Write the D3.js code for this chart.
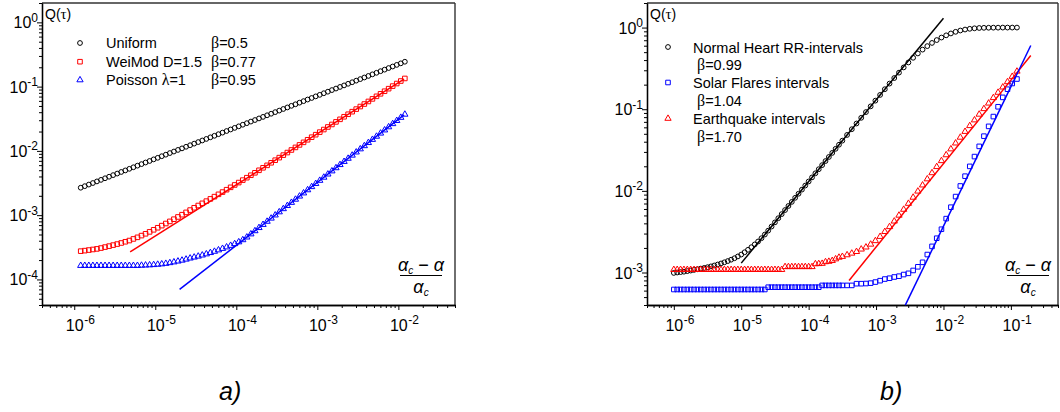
<!DOCTYPE html>
<html><head><meta charset="utf-8">
<script src="https://cdn.jsdelivr.net/npm/d3@7"></script>
<style>
body{margin:0;background:#fff}
svg{display:block}
text{font-family:"Liberation Sans",Arial,sans-serif;fill:#000}
</style>
</head><body>
<svg id="c" width="1060" height="412"></svg>
<script>
// ---------------- DATA (log10 values) ----------------
// Panel a) : x = log10((αc-α)/αc)
const xLogA = [-5.92,-5.87,-5.82,-5.77,-5.72,-5.67,-5.62,-5.57,-5.52,-5.47,-5.42,-5.37,-5.32,-5.27,-5.22,-5.17,-5.12,-5.07,-5.02,-4.97,
-4.92,-4.87,-4.82,-4.77,-4.72,-4.67,-4.62,-4.57,-4.52,-4.47,-4.42,-4.37,-4.32,-4.27,-4.22,-4.17,-4.12,-4.07,-4.02,-3.97,
-3.92,-3.87,-3.82,-3.77,-3.72,-3.67,-3.62,-3.57,-3.52,-3.47,-3.42,-3.37,-3.32,-3.27,-3.22,-3.17,-3.12,-3.07,-3.02,-2.97,
-2.92,-2.87,-2.82,-2.77,-2.72,-2.67,-2.62,-2.57,-2.52,-2.47,-2.42,-2.37,-2.32,-2.27,-2.22,-2.17,-2.12,-2.07,-2.02,-1.97,-1.92];
// log10 Q(τ)
const uniformLogQ = [-2.573,-2.549,-2.524,-2.500,-2.475,-2.451,-2.426,-2.402,-2.377,-2.353,-2.328,-2.304,-2.279,-2.255,-2.230,-2.206,-2.181,-2.157,-2.132,-2.108,
-2.083,-2.059,-2.034,-2.010,-1.985,-1.961,-1.936,-1.912,-1.887,-1.863,-1.838,-1.814,-1.789,-1.765,-1.740,-1.716,-1.691,-1.667,-1.642,-1.618,
-1.593,-1.569,-1.544,-1.520,-1.495,-1.471,-1.446,-1.422,-1.397,-1.373,-1.348,-1.324,-1.299,-1.275,-1.250,-1.226,-1.201,-1.177,-1.152,-1.128,
-1.103,-1.079,-1.054,-1.030,-1.005,-0.981,-0.956,-0.932,-0.907,-0.883,-0.858,-0.834,-0.809,-0.785,-0.760,-0.736,-0.711,-0.687,-0.662,-0.638,-0.613];
const weimodLogQ = [-3.560,-3.552,-3.543,-3.534,-3.525,-3.512,-3.497,-3.482,-3.466,-3.450,-3.433,-3.414,-3.395,-3.370,-3.345,-3.318,-3.290,-3.260,-3.228,-3.196,
-3.163,-3.130,-3.097,-3.063,-3.028,-2.993,-2.957,-2.921,-2.885,-2.850,-2.816,-2.782,-2.747,-2.712,-2.676,-2.641,-2.604,-2.567,-2.530,-2.493,
-2.455,-2.417,-2.379,-2.341,-2.302,-2.263,-2.225,-2.185,-2.145,-2.105,-2.066,-2.026,-1.986,-1.946,-1.907,-1.867,-1.827,-1.787,-1.748,-1.708,
-1.668,-1.628,-1.589,-1.549,-1.509,-1.469,-1.430,-1.390,-1.350,-1.310,-1.271,-1.231,-1.191,-1.151,-1.112,-1.072,-1.032,-0.992,-0.952,-0.913,-0.873];
const poissonLogQ = [-3.785,-3.785,-3.785,-3.785,-3.785,-3.785,-3.785,-3.785,-3.785,-3.785,-3.785,-3.785,-3.785,-3.785,-3.785,-3.782,-3.779,-3.776,-3.772,-3.767,
-3.761,-3.753,-3.742,-3.730,-3.717,-3.703,-3.687,-3.670,-3.655,-3.640,-3.623,-3.605,-3.585,-3.565,-3.543,-3.520,-3.497,-3.473,-3.446,-3.418,
-3.385,-3.343,-3.294,-3.245,-3.196,-3.147,-3.098,-3.049,-3.000,-2.951,-2.902,-2.853,-2.804,-2.755,-2.706,-2.657,-2.608,-2.559,-2.510,-2.461,
-2.412,-2.363,-2.314,-2.265,-2.216,-2.167,-2.118,-2.069,-2.020,-1.971,-1.922,-1.873,-1.824,-1.775,-1.726,-1.677,-1.628,-1.579,-1.530,-1.481,-1.432];
// fitted power laws (log10 x, log10 Q) end points
const weimodFitA = [[-5.31,-3.570],[-1.93,-0.883]];
const poissonFitA = [[-4.70,-4.156],[-1.93,-1.441]];

// Panel b)
const xLogB = [-6.00,-5.95,-5.90,-5.85,-5.80,-5.75,-5.70,-5.65,-5.60,-5.55,-5.50,-5.45,-5.40,-5.35,-5.30,-5.25,-5.20,-5.15,-5.10,-5.05,
-5.00,-4.95,-4.90,-4.85,-4.80,-4.75,-4.70,-4.65,-4.60,-4.55,-4.50,-4.45,-4.40,-4.35,-4.30,-4.25,-4.20,-4.15,-4.10,-4.05,
-4.00,-3.95,-3.90,-3.85,-3.80,-3.75,-3.70,-3.65,-3.60,-3.55,-3.50,
-3.43,-3.36,-3.29,-3.22,-3.15,-3.08,-3.01,-2.94,-2.87,-2.80,-2.73,-2.66,-2.59,-2.52,-2.45,-2.38,-2.31,-2.24,-2.17,-2.10,
-2.03,-1.96,-1.89,-1.82,-1.75,-1.68,-1.61,-1.54,-1.47,-1.40,-1.33,-1.26,-1.19,-1.12,-1.05,-0.98,-0.91];
const heartLogQ = [-3.005,-3.000,-2.995,-2.990,-2.983,-2.976,-2.968,-2.960,-2.952,-2.944,-2.935,-2.925,-2.914,-2.902,-2.889,-2.875,-2.860,-2.843,-2.825,-2.803,
-2.780,-2.752,-2.722,-2.690,-2.656,-2.620,-2.580,-2.535,-2.487,-2.437,-2.386,-2.335,-2.285,-2.235,-2.185,-2.135,-2.085,-2.035,-1.985,-1.935,
-1.885,-1.835,-1.785,-1.735,-1.685,-1.635,-1.585,-1.535,-1.485,-1.435,-1.385,
-1.315,-1.245,-1.175,-1.105,-1.035,-0.965,-0.895,-0.825,-0.755,-0.686,-0.618,-0.552,-0.488,-0.427,-0.370,-0.317,-0.270,-0.227,-0.188,-0.153,
-0.122,-0.095,-0.072,-0.052,-0.036,-0.024,-0.015,-0.009,-0.005,-0.003,-0.002,-0.001,-0.001,0,0,0,0];
const solarLogQ = [-3.208,-3.208,-3.208,-3.208,-3.208,-3.208,-3.208,-3.208,-3.208,-3.208,-3.208,-3.208,-3.208,-3.208,-3.208,-3.208,-3.208,-3.208,-3.208,-3.208,
-3.208,-3.208,-3.208,-3.208,-3.208,-3.208,-3.208,-3.208,-3.180,-3.180,-3.180,-3.180,-3.180,-3.180,-3.180,-3.180,-3.180,-3.180,-3.180,-3.180,
-3.180,-3.180,-3.180,-3.180,-3.158,-3.158,-3.158,-3.158,-3.158,-3.158,-3.158,
-3.158,-3.158,-3.137,-3.137,-3.135,-3.130,-3.117,-3.100,-3.080,-3.070,-3.055,-3.045,-3.025,-3.010,-2.975,-2.930,-2.875,-2.780,-2.680,-2.580,
-2.470,-2.340,-2.200,-2.070,-1.940,-1.820,-1.700,-1.580,-1.455,-1.330,-1.210,-1.090,-0.970,-0.855,-0.755,-0.685,-0.630];
const quakeLogQ = [-2.965,-2.965,-2.965,-2.965,-2.965,-2.965,-2.965,-2.965,-2.965,-2.965,-2.965,-2.965,-2.965,-2.965,-2.965,-2.965,-2.965,-2.965,-2.965,-2.965,
-2.965,-2.965,-2.965,-2.965,-2.965,-2.965,-2.965,-2.965,-2.965,-2.965,-2.965,-2.965,-2.965,-2.930,-2.930,-2.930,-2.930,-2.930,-2.930,-2.930,
-2.930,-2.930,-2.895,-2.893,-2.890,-2.870,-2.865,-2.855,-2.835,-2.815,-2.805,
-2.785,-2.765,-2.745,-2.715,-2.690,-2.655,-2.612,-2.560,-2.500,-2.440,-2.372,-2.300,-2.228,-2.155,-2.080,-2.005,-1.930,-1.855,-1.780,-1.705,
-1.632,-1.560,-1.488,-1.416,-1.345,-1.274,-1.203,-1.133,-1.063,-0.995,-0.927,-0.860,-0.795,-0.730,-0.665,-0.600,-0.536];
const heartFitB = [[-5.00,-2.885],[-2.00,0.115]];
const solarFitB = [[-2.566,-3.400],[-0.705,-0.220]];
const quakeFitB = [[-3.40,-3.097],[-0.705,-0.343]];

const legendA = [
  {name:"Uniform", beta:"=0.5"},
  {name:"WeiMod D=1.5", beta:"=0.77"},
  {name:"Poisson ", lambda:true, beta:"=0.95"}
];
const legendB = [
  {name:"Normal Heart RR-intervals", beta:"=0.99"},
  {name:"Solar Flares intervals", beta:"=1.04"},
  {name:"Earthquake intervals", beta:"=1.70"}
];

// ---------------- DRAWING ----------------
const svg = d3.select("#c");
const serif = '"Liberation Serif","Times New Roman",serif';

function allTicks(dom){
  const out=[];
  const e0=Math.floor(Math.log10(dom[0])), e1=Math.ceil(Math.log10(dom[1]));
  for(let e=e0;e<=e1;e++) for(let m=1;m<=9;m++){
    const v=+(m+"e"+e);
    if(v>=dom[0]*0.9999 && v<=dom[1]*1.0001) out.push(v);
  }
  return out;
}
const isPow10 = v => Math.abs(Math.log10(v)-Math.round(Math.log10(v)))<1e-9;

const sym = {
  circle: d3.symbol().type(d3.symbolCircle).size(18),
  square: d3.symbol().type(d3.symbolSquare).size(21),
  triangle: d3.symbol().type(d3.symbolTriangle).size(17)
};

function panel(o){
  const x=d3.scaleLog().domain(o.xDomain).range([o.left,o.right]);
  const y=d3.scaleLog().domain(o.yDomain).range([o.bottom,o.top]);
  const g=svg.append("g");

  // frame top/right
  g.append("line").attr("x1",o.left).attr("x2",o.right).attr("y1",o.top).attr("y2",o.top).attr("stroke","#333").attr("stroke-width",1.4);
  g.append("line").attr("x1",o.right).attr("x2",o.right).attr("y1",o.top).attr("y2",o.bottom).attr("stroke","#333").attr("stroke-width",1.4);

  const xt=allTicks(o.xDomain), yt=allTicks(o.yDomain);
  const styleAxis = s => { s.select(".domain").attr("stroke","#000").attr("stroke-width",1.3); s.selectAll(".tick line").attr("stroke","#000").attr("stroke-width",1); };

  g.append("g").attr("transform",`translate(0,${o.bottom})`)
    .call(d3.axisBottom(x).tickValues(xt.filter(v=>!isPow10(v))).tickSize(3).tickSizeOuter(0).tickFormat(""))
    .call(styleAxis);
  const gx=g.append("g").attr("transform",`translate(0,${o.bottom})`)
    .call(d3.axisBottom(x).tickValues(xt.filter(isPow10)).tickSize(5).tickSizeOuter(0).tickFormat(""))
    .call(styleAxis);
  gx.selectAll(".tick").each(function(d){
    const t=d3.select(this); t.selectAll("text").remove();
    const e=Math.round(Math.log10(d));
    t.append("text").attr("y",25.5).attr("text-anchor","middle").attr("font-size",16).text("10");
    t.append("text").attr("x",9.5).attr("y",19).attr("text-anchor","start").attr("font-size",12).text(String(e));
  });

  g.append("g").attr("transform",`translate(${o.left},0)`)
    .call(d3.axisLeft(y).tickValues(yt.filter(v=>!isPow10(v))).tickSize(3).tickSizeOuter(0).tickFormat(""))
    .call(styleAxis);
  const gy=g.append("g").attr("transform",`translate(${o.left},0)`)
    .call(d3.axisLeft(y).tickValues(yt.filter(isPow10)).tickSize(5).tickSizeOuter(0).tickFormat(""))
    .call(styleAxis);
  gy.selectAll(".tick").each(function(d){
    const t=d3.select(this); t.selectAll("text").remove();
    const e=Math.round(Math.log10(d));
    const tx=t.append("text").attr("x",-4).attr("y",5.5).attr("text-anchor","end").attr("font-size",16);
    tx.append("tspan").text("10");
    tx.append("tspan").attr("dy",-6.5).attr("font-size",12).text(String(e));
  });

  // series
  o.series.forEach(s=>{
    const data=o.xs.map((lx,i)=>({x:Math.pow(10,lx),y:Math.pow(10,s.v[i])}));
    g.append("g").selectAll("path").data(data).join("path")
      .attr("d",sym[s.shape]())
      .attr("transform",d=>`translate(${x(d.x)},${y(d.y)})`)
      .attr("fill","none").attr("stroke",s.color).attr("stroke-width",1);
  });
  const line=d3.line().x(d=>x(Math.pow(10,d[0]))).y(d=>y(Math.pow(10,d[1])));
  o.fits.forEach(f=>{
    g.append("path").attr("d",line(f.pts)).attr("fill","none").attr("stroke",f.color).attr("stroke-width",1.5);
  });

  // Q(τ)
  const q=g.append("text").attr("x",o.left+3).attr("y",18.5).attr("font-size",14);
  q.append("tspan").text("Q(");
  q.append("tspan").attr("font-family",serif).attr("font-size",15).text("τ");
  q.append("tspan").text(")");

  // fraction label
  const fx=o.fracX;
  const num=g.append("text").attr("x",fx).attr("y",271).attr("text-anchor","middle")
    .attr("font-family",serif).attr("font-style","italic").attr("font-size",18);
  num.append("tspan").text("α");
  num.append("tspan").attr("font-size",10).attr("dy",3).text("c");
  num.append("tspan").attr("dy",-3).attr("font-style","normal").text(" − ");
  num.append("tspan").text("α");
  g.append("line").attr("x1",fx-21).attr("x2",fx+21).attr("y1",275.5).attr("y2",275.5).attr("stroke","#000").attr("stroke-width",1);
  const den=g.append("text").attr("x",fx).attr("y",292.5).attr("text-anchor","middle")
    .attr("font-family",serif).attr("font-style","italic").attr("font-size",18);
  den.append("tspan").text("α");
  den.append("tspan").attr("font-size",10).attr("dy",3).text("c");

  // caption
  g.append("text").attr("x",o.capX).attr("y",400).attr("font-size",25).attr("font-style","italic").text(o.caption);
  return {x,y,g};
}

// Panel a
const A=panel({
  left:42,right:455,top:3,bottom:305,
  xDomain:[4e-7,5e-2], yDomain:[4e-5,2],
  xs:xLogA,
  series:[
    {v:uniformLogQ,shape:"circle",color:"#000"},
    {v:weimodLogQ,shape:"square",color:"#f00"},
    {v:poissonLogQ,shape:"triangle",color:"#00f"}
  ],
  fits:[{pts:weimodFitA,color:"#f00"},{pts:poissonFitA,color:"#00f"}],
  fracX:421, capX:219, caption:"a)"
});
// legend a
{
  const shapes=["circle","square","triangle"], cols=["#000","#f00","#00f"];
  const base=[48,66.7,85];
  legendA.forEach((l,i)=>{
    A.g.append("path").attr("d",sym[shapes[i]]()).attr("transform",`translate(80,${base[i]-5})`)
      .attr("fill","none").attr("stroke",cols[i]);
    const t=A.g.append("text").attr("x",106).attr("y",base[i]).attr("font-size",14.5);
    t.append("tspan").text(l.name);
    if(l.lambda){ t.append("tspan").attr("font-family",serif).attr("font-size",16).text("λ"); t.append("tspan").text("=1"); }
    const b=A.g.append("text").attr("x",211).attr("y",base[i]).attr("font-size",14.5);
    b.append("tspan").attr("font-family",serif).attr("font-size",16).text("β");
    b.append("tspan").text(l.beta);
  });
}

// Panel b
const B=panel({
  left:647,right:1058,top:3,bottom:305,
  xDomain:[4e-7,0.5], yDomain:[4e-4,2],
  xs:xLogB,
  series:[
    {v:heartLogQ,shape:"circle",color:"#000"},
    {v:quakeLogQ,shape:"triangle",color:"#f00"},
    {v:solarLogQ,shape:"square",color:"#00f"}
  ],
  fits:[{pts:heartFitB,color:"#000"},{pts:quakeFitB,color:"#f00"},{pts:solarFitB,color:"#00f"}],
  fracX:1028, capX:880, caption:"b)"
});
{
  const shapes=["circle","square","triangle"], cols=["#000","#00f","#f00"];
  const base=[52.5,88,124];
  legendB.forEach((l,i)=>{
    B.g.append("path").attr("d",sym[shapes[i]]()).attr("transform",`translate(668,${base[i]-5.5})`)
      .attr("fill","none").attr("stroke",cols[i]);
    B.g.append("text").attr("x",693).attr("y",base[i]).attr("font-size",14.5).text(l.name);
    const b=B.g.append("text").attr("x",697).attr("y",base[i]+17.8).attr("font-size",14.5);
    b.append("tspan").attr("font-family",serif).attr("font-size",16).text("β");
    b.append("tspan").text(l.beta);
  });
}
</script>
</body></html>
